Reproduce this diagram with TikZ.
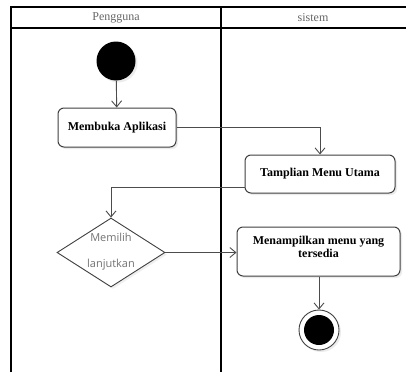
\documentclass[tikz,border=0pt]{standalone}
\usepackage{fontspec}
\setmainfont{Liberation Serif}
\newfontfamily\guardfont{Open Sans}
\usetikzlibrary{shapes.geometric,arrows.meta,shadows}

\tikzset{
  lane/.style={draw=black, line width=1.6pt},
  lanetitle/.style={font=\fontsize{12}{13}\selectfont, text=black!60},
  act/.style={draw=black!75, line width=1pt, rounded corners=6pt, fill=white,
    font=\fontsize{12}{13}\selectfont\bfseries, align=center,
    drop shadow={opacity=0.15, shadow xshift=2pt, shadow yshift=-2pt}},
  flow/.style={draw=black!70, line width=0.9pt, -{Straight Barb[length=6pt,width=10pt]}},
  guard/.style={font=\guardfont\fontsize{11}{12}\selectfont, text=black!55},
}

\begin{document}
\begin{tikzpicture}[x=1pt,y=-1pt]
    \useasboundingbox[fill=white] (0,0) rectangle (406,372);
    \draw[lane] (11,372) -- (11,7) -- (406,7);
    \draw[lane] (11,28) -- (406,28);
    \draw[lane] (221,7) -- (221,372);
    \node[lanetitle] (user) at (116,17.5) {Pengguna};
    \node[lanetitle] (sys) at (313,17.5) {sistem};

    \node[circle, fill=black, minimum size=39pt, inner sep=0pt,
      drop shadow={opacity=0.15, shadow xshift=2pt, shadow yshift=-2pt}] (start) at (116,61) {};
    \node[act, minimum width=118pt, minimum height=39pt] (open) at (117,127.5) {Membuka Aplikasi};
    \node[act, minimum width=150pt, minimum height=38pt] (home) at (320,174) {Tamplian Menu Utama};
    \node[diamond, draw=black!75, line width=0.9pt, fill=white, aspect=1.57,
      minimum width=108pt, minimum height=69pt, inner sep=0pt,
      drop shadow={opacity=0.12, shadow xshift=2pt, shadow yshift=-2pt}] (choose) at (111,252.5) {};
    \node[guard] (choosea) at (111,237.5) {Memilih};
    \node[guard] (chooseb) at (111,265) {lanjutkan};
    \node[act, minimum width=163pt, minimum height=49pt, inner sep=2pt,
      text depth=10pt] (menu) at (318.5,251.5) {Menampilkan menu yang\\tersedia};
    \node[circle, draw=black!75, line width=0.9pt, fill=white, minimum size=40pt, inner sep=0pt,
      drop shadow={opacity=0.15, shadow xshift=2pt, shadow yshift=-2pt}] (stop) at (319,330) {};
    \node[circle, fill=black, minimum size=30pt, inner sep=0pt] (stopdot) at (stop) {};

    \draw[flow] (start) -- (open);
    \draw[flow] (open.east) -| (home.north);
    \draw[flow] ([yshift=-13pt]home.west) -| (choose.north);
    \draw[flow] (choose.east) -- (choose.east -| menu.west);
    \draw[flow] (menu.south -| stop.north) -- (stop.north);
\end{tikzpicture}
\end{document}
